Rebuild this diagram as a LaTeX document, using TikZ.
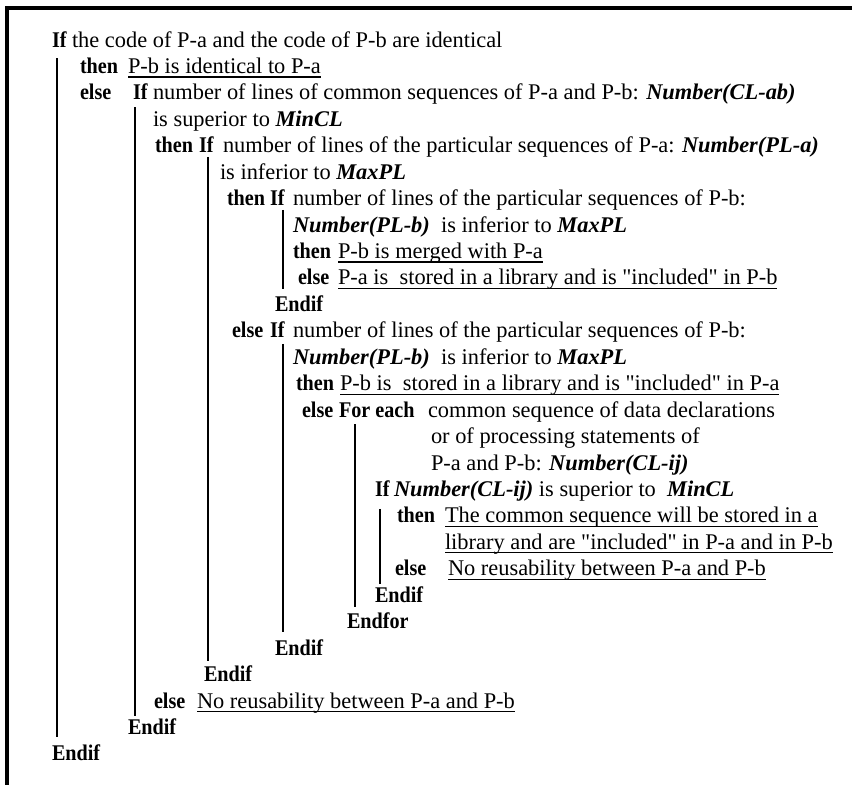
\documentclass[tikz,border=0pt]{standalone}
\usepackage{fontspec}
\setmainfont{Liberation Serif}[BoldFeatures={FakeStretch=0.9}]
\usetikzlibrary{positioning}

\newcommand{\listfont}{\fontsize{16.8}{19.8}\selectfont}
\tikzset{
  txt/.style={anchor=base west, inner sep=0pt, outer sep=0pt, font=\listfont},
  kw/.style={txt, font=\listfont\bfseries},
  bar/.style={line width=2pt},
  uline/.style={line width=0.9pt},
  frame/.style={line width=2.6pt, line join=miter}
}
\newcommand{\var}[1]{\textbf{\textit{#1}}}
\newcommand{\incl}{\textquotedbl included\textquotedbl}

\begin{document}
\begin{tikzpicture}[x=0.75pt, y=-19.83pt]
\useasboundingbox (0,-0.7776) rectangle (852,28.912);
% frame, top and left only
\draw[frame] (852,-0.475) -- (7,-0.475) -- (7,28.912);

% outer test
\node[kw]  (k1)  at (52,1) {If};
\node[txt] (t1)  at (72,1) {the code of P-a and the code of P-b are identical};
\node[kw]  (k2)  at (80,2) {then};
\node[txt] (t2)  at (128,2) {P-b is identical to P-a};
\node[kw]  (k3)  at (80,3) {else};
\node[kw]  (k3b) at (133,3) {If};
\node[txt] (t3)  at (153,3) {number of lines of common sequences of P-a and P-b: \var{Number(CL-ab)}};
\node[txt] (t4)  at (153,4) {is superior to \var{MinCL}};

% P-a particular sequences
\node[kw]  (k5)  at (155,5) {then};
\node[kw]  (k5b) at (199,5) {If};
\node[txt] (t5)  at (223,5) {number of lines of the particular sequences of P-a: \var{Number(PL-a)}};
\node[txt] (t6)  at (220,6) {is inferior to \var{MaxPL}};
\node[kw]  (k7)  at (227,7) {then};
\node[kw]  (k7b) at (270,7) {If};
\node[txt] (t7)  at (293,7) {number of lines of the particular sequences of P-b:};
\node[txt] (t8)  at (293,8) {\var{Number(PL-b)}~ is inferior to \var{MaxPL}};
\node[kw]  (k9)  at (293,9) {then};
\node[txt] (t9)  at (338,9) {P-b is merged with P-a};
\node[kw]  (k10) at (298,10) {else};
\node[txt] (t10) at (338,10) {P-a is~ stored in a library and is \incl{} in P-b};
\node[kw]  (e11) at (275,11) {Endif};

% P-b particular sequences
\node[kw]  (k12) at (232,12) {else};
\node[kw]  (k12b) at (270,12) {If};
\node[txt] (t12) at (293,12) {number of lines of the particular sequences of P-b:};
\node[txt] (t13) at (293,13) {\var{Number(PL-b)}~ is inferior to \var{MaxPL}};
\node[kw]  (k14) at (296,14) {then};
\node[txt] (t14) at (340,14) {P-b is~ stored in a library and is \incl{} in P-a};
\node[kw]  (k15) at (302,15) {else};
\node[kw]  (k15b) at (339,15) {For each};
\node[txt] (t15) at (428,15) {common sequence of data declarations};
\node[txt] (t16) at (431,16) {or of processing statements of};
\node[txt] (t17) at (431,17) {P-a and P-b: \var{Number(CL-ij)}};

% loop body
\node[kw]  (k18) at (375,18) {If};
\node[txt] (t18) at (394,18) {\var{Number(CL-ij)} is superior to~ \var{MinCL}};
\node[kw]  (k19) at (397,19) {then};
\node[txt] (t19) at (445,19) {The common sequence will be stored in a};
\node[txt] (t20) at (445,20) {library and are \incl{} in P-a and in P-b};
\node[kw]  (k21) at (395,21) {else};
\node[txt] (t21) at (448,21) {No reusability between P-a and P-b};
\node[kw]  (e22) at (375,22) {Endif};
\node[kw]  (e23) at (347,23) {Endfor};
\node[kw]  (e24) at (275,24) {Endif};
\node[kw]  (e25) at (204,25) {Endif};
\node[kw]  (k26) at (154,26) {else};
\node[txt] (t26) at (197,26) {No reusability between P-a and P-b};
\node[kw]  (e27) at (128,27) {Endif};
\node[kw]  (e28) at (52,28) {Endif};

% underlined results
\foreach \n in {t2,t9,t10,t14,t19,t20,t21,t26}
  \draw[uline] ([yshift=-2.6pt]\n.base west) -- ([yshift=-2.6pt]\n.base east);

% nesting bars
\foreach \x/\ya/\yb in {57/1.42/27.10, 135/3.27/26.30, 208/5.16/24.22,
    283/7.16/10.15, 283/12.23/23.13, 355/15.26/22.18, 380/18.47/21.31}
  \draw[bar] (\x,\ya) -- (\x,\yb);
\end{tikzpicture}
\end{document}
